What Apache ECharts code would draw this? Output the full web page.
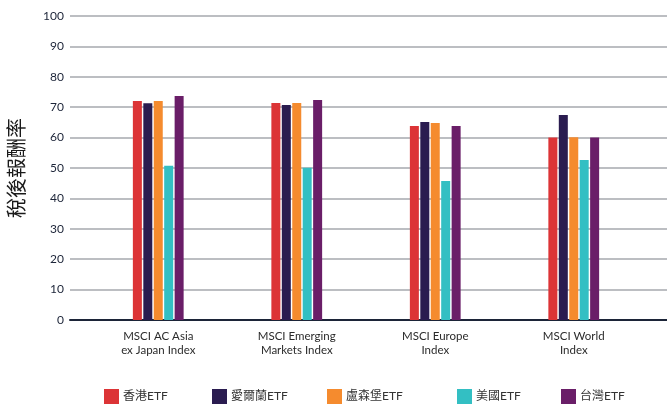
<!DOCTYPE html>
<html>
<head>
<meta charset="utf-8">
<script src="https://cdn.jsdelivr.net/npm/echarts@6/dist/echarts.min.js"></script>
<style>
  html, body { margin: 0; padding: 0; background: #fff; }
  #chart { width: 667px; height: 405px; }
</style>
</head>
<body>
<div id="chart"></div>
<script>
// 指數類別
const categories = ['MSCI AC Asia\nex Japan Index', 'MSCI Emerging\nMarkets Index', 'MSCI Europe\nIndex', 'MSCI World\nIndex']
const yTicks = [0, 10, 20, 30, 40, 50, 60, 70, 80, 90, 100]

// 各註冊地 ETF 稅後報酬率
const hongKong = [72.0, 71.4, 63.8, 60.0]
const ireland = [71.3, 70.7, 65.1, 67.4]
const luxembourg = [72.0, 71.4, 64.8, 60.1]
const usa = [50.7, 50.1, 45.7, 52.6]
const taiwan = [73.7, 72.4, 63.8, 60.0]

const seriesNames = ['香港ETF', '愛爾蘭ETF', '盧森堡ETF', '美國ETF', '台灣ETF']
const seriesData = [hongKong, ireland, luxembourg, usa, taiwan]
const colors = ['#dc3436', '#2a1c50', '#f58b2e', '#33bfc3', '#6a1e68']
const legendLeft = [104, 212, 327, 457, 561]

const font = 'Lato, "Noto Sans CJK TC", sans-serif'

const drawEcharts = (option, id) => {
  let dom = document.getElementById(id)
  let echart = echarts.init(dom)
  option && echart.setOption(option)
}

const option = {
  animation: false,
  color: colors,
  grid: [
    // 背景格線
    { left: 60, right: 0, top: 16, bottom: 85 },
    // 柱狀圖
    { left: 89, width: 554, top: 16, bottom: 85 }
  ],
  legend: seriesNames.map((name, i) => ({
    data: [name],
    left: legendLeft[i],
    top: 389,
    itemWidth: 15,
    itemHeight: 15,
    itemGap: 0,
    icon: 'rect',
    textStyle: { fontSize: 12, color: '#333', fontFamily: font, padding: [0, 0, 0, -1] },
    padding: 0
  })),
  xAxis: [
    {
      gridIndex: 0,
      type: 'value',
      min: 0,
      max: 1,
      axisLine: { show: true, lineStyle: { color: '#1c2438', width: 2 } },
      axisTick: { show: false },
      axisLabel: { show: false },
      splitLine: { show: false }
    },
    {
      gridIndex: 1,
      type: 'category',
      data: categories,
      axisLine: { show: false },
      axisTick: { show: false },
      axisLabel: {
        margin: 9,
        fontSize: 11.5,
        lineHeight: 14,
        color: '#2b2b2b',
        fontFamily: font
      }
    }
  ],
  yAxis: [
    {
      gridIndex: 0,
      type: 'value',
      min: yTicks[0],
      max: yTicks[yTicks.length - 1],
      interval: 10,
      name: '稅後報酬率',
      nameLocation: 'middle',
      nameRotate: 90,
      nameGap: 42,
      nameTextStyle: { fontSize: 20, color: '#1a1a1a', fontFamily: font },
      axisLine: { show: false },
      axisTick: { show: false },
      axisLabel: { margin: 6, fontSize: 12, color: '#1c2438', fontFamily: font },
      splitLine: { lineStyle: { color: '#a6a9ae', width: 1.6 } }
    },
    {
      gridIndex: 1,
      type: 'value',
      min: 0,
      max: 100,
      show: false,
      splitLine: { show: false }
    }
  ],
  series: seriesNames.map((name, i) => ({
    name: name,
    type: 'bar',
    xAxisIndex: 1,
    yAxisIndex: 1,
    data: seriesData[i],
    barWidth: 9,
    barGap: '16%',
    z: 3
  }))
}

drawEcharts(option, 'chart')
</script>
</body>
</html>
